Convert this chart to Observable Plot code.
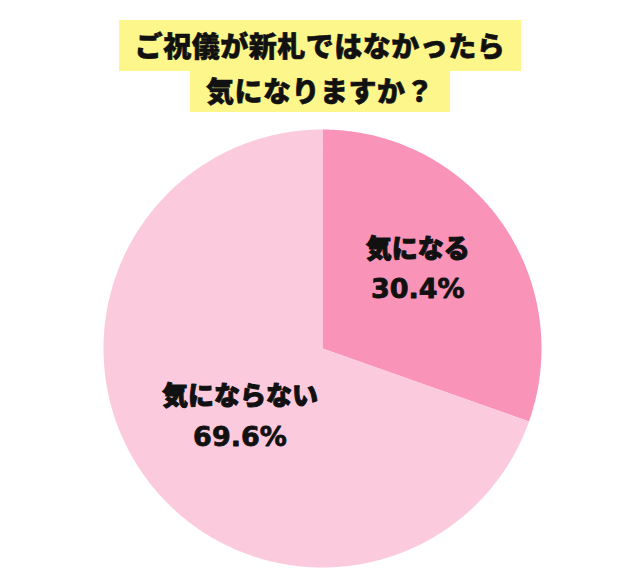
<!DOCTYPE html>
<html>
<head>
<meta charset="utf-8">
<script src="https://cdn.jsdelivr.net/npm/d3@7"></script>
<script src="https://cdn.jsdelivr.net/npm/@observablehq/plot@0.6"></script>
<style>
  html, body { margin: 0; padding: 0; background: #ffffff; }
  body { width: 640px; height: 580px; overflow: hidden; }
  #title { padding-top: 20px; text-align: center; font-family: "Noto Sans CJK JP", sans-serif; font-weight: 900; color: #111111; }
  #title .line { display: block; width: fit-content; margin: 0 auto; background: #fdf68b; font-size: 28px; letter-spacing: 0.5px; -webkit-text-stroke: 0.6px #111111; }
  #title .l1 { height: 51px; line-height: 51px; padding: 0 16px; }
  #title .l2 { height: 41px; line-height: 39px; padding: 0 16px; }
  #chart svg { display: block; }
</style>
</head>
<body>
<div id="title"></div>
<div id="chart"></div>
<script>
const titleLines = ["ご祝儀が新札ではなかったら", "気になりますか？"];
const categories = ["気になる", "気にならない"];
const values = [30.4, 69.6];
const valueLabels = ["30.4%", "69.6%"];
const colors = ["#f994b8", "#fccadd"];

const titleEl = document.getElementById("title");
titleLines.forEach((t, i) => {
  const d = document.createElement("div");
  d.className = "line l" + (i + 1);
  d.textContent = t;
  titleEl.appendChild(d);
});

const pie = d3.pie().sort(null).value(d => d.value).startAngle(0).endAngle(2 * Math.PI);
const arcs = pie(categories.map((c, i) => ({category: c, value: values[i], label: valueLabels[i]})));

const pt = (a) => [Math.sin(a), Math.cos(a)];
const features = arcs.map(a => {
  const ring = [[0, 0]];
  const steps = Math.max(2, Math.ceil((a.endAngle - a.startAngle) / (Math.PI / 360)));
  for (let k = 0; k <= steps; k++) {
    ring.push(pt(a.startAngle + (a.endAngle - a.startAngle) * k / steps));
  }
  ring.push([0, 0]);
  return {type: "Feature", properties: {category: a.data.category}, geometry: {type: "Polygon", coordinates: [ring]}};
});

const labelRadius = [0.565, 0.49];
const labels = arcs.map((a, i) => {
  const mid = (a.startAngle + a.endAngle) / 2 - 0.077;
  const [x, y] = pt(mid).map(v => v * labelRadius[i]);
  return {x, y, name: a.data.category, value: a.data.label};
});

const ink = "#111111";
const chart = Plot.plot({
  width: 640,
  height: 468,
  marginLeft: 103,
  marginRight: 99,
  marginTop: 17,
  marginBottom: 13,
  projection: {type: "reflect-y", domain: {type: "MultiPoint", coordinates: [[-1, -1], [1, 1]]}},
  color: {domain: categories, range: colors},
  marks: [
    Plot.geo(features, {fill: d => d.properties.category}),
    Plot.text(labels, {x: "x", y: "y", text: "name", dy: -20, fontSize: 26, fontWeight: 900, fill: ink, stroke: ink, strokeWidth: 1, fontFamily: "'Noto Sans CJK JP', sans-serif"}),
    Plot.text(labels, {x: "x", y: "y", text: "value", dy: 20, fontSize: 27, fontWeight: "bold", fill: ink, stroke: ink, strokeWidth: 0.8, fontFamily: "'DejaVu Sans', 'Noto Sans CJK JP', sans-serif"})
  ]
});
document.getElementById("chart").appendChild(chart);
</script>
</body>
</html>
